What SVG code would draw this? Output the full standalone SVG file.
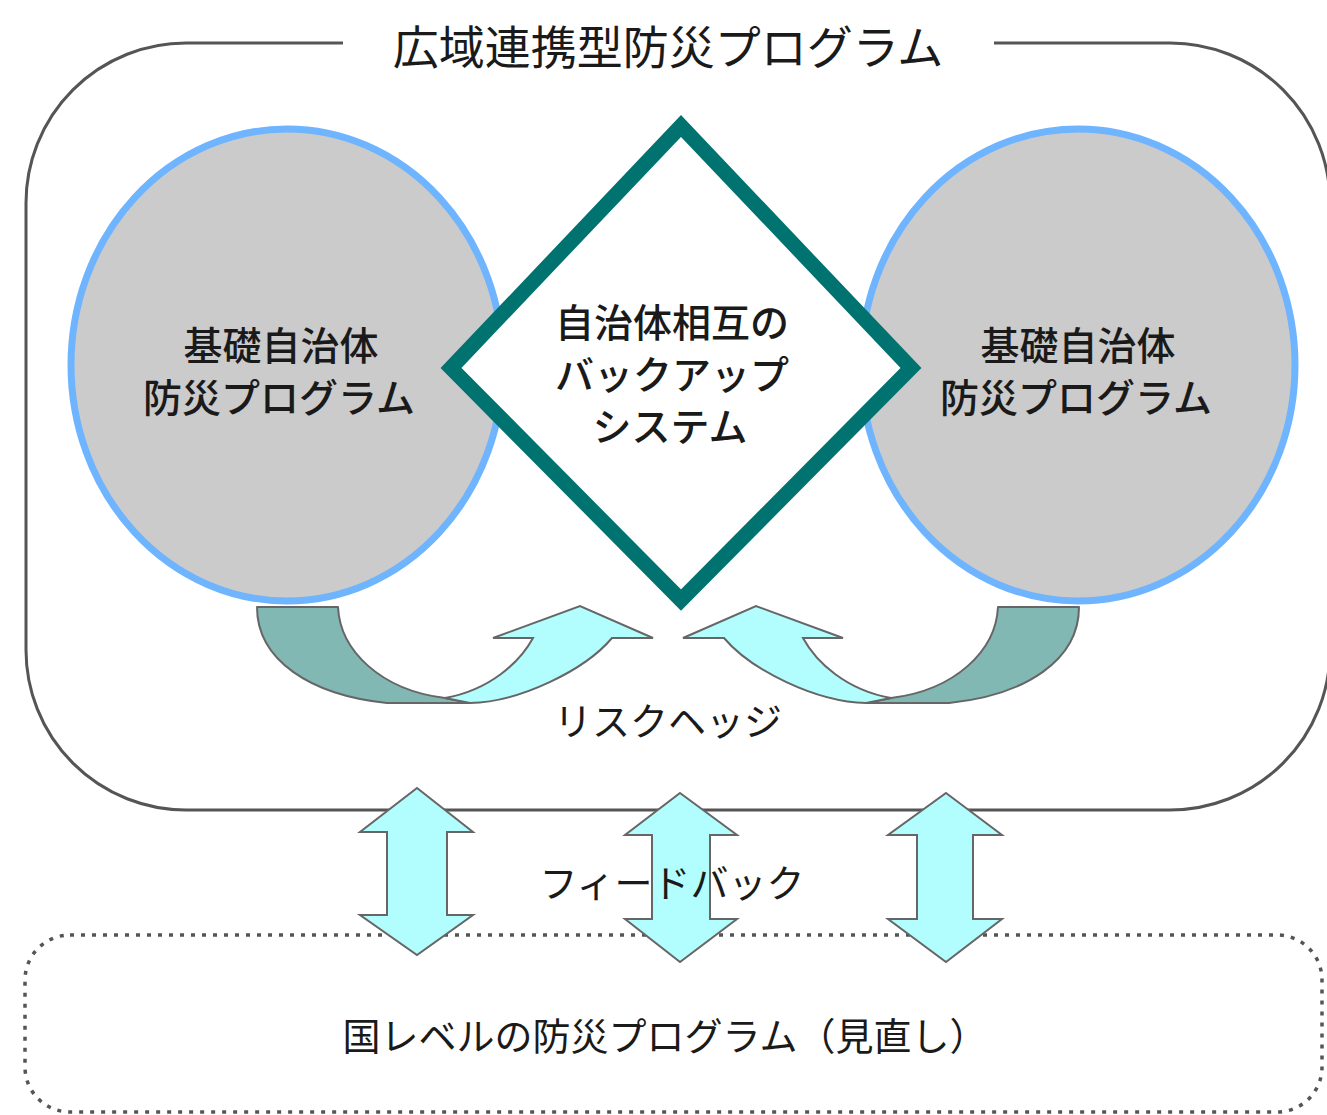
<svg xmlns="http://www.w3.org/2000/svg" width="1327" height="1115" viewBox="0 0 1327 1115">
<style>
  text { font-family: "Noto Sans CJK JP", "Noto Sans CJK SC", sans-serif; fill: #1a1a1a; text-anchor: middle; dominant-baseline: central; }
  .t-title { font-size: 46px; }
  .t-node { font-size: 39px; font-weight: 500; }
  .t-lbl { font-size: 38px; }
  .circ { fill: #cbcbcb; stroke: #6eb4ff; stroke-width: 7; }
  .frame { fill: none; stroke: #555; stroke-width: 3; }
  .dotted { fill: none; stroke: #555; stroke-width: 3.5; stroke-dasharray: 4 7; }
  .dark { fill: #82b8b4; stroke: #666; stroke-width: 2; stroke-linejoin: round; }
  .light { fill: #b2fdfd; stroke: #666; stroke-width: 2; stroke-linejoin: miter; }
</style>
<defs>
  <g id="hedge">
    <path class="dark" d="M257,607 L338,607 C340,650 380,690 445,698 L470,703 L387,703 C310,695 257,660 257,607 Z"/>
    <path class="light" d="M445,698 L470,703 C520,702 585,670 612,638 L653,638 L580,606 L493,638 L533,638 C520,662 490,690 445,698 Z"/>
  </g>
</defs>
<rect width="1327" height="1115" fill="#fff"/>

<g id="frame-wide">
  <path class="frame" d="M343,43 L186,43 A160,160 0 0 0 26,203 L26,650 A160,160 0 0 0 186,810 L1170,810 A160,160 0 0 0 1330,650 L1330,203 A160,160 0 0 0 1170,43 L994,43"/>
  <text class="t-title" x="668" y="44">広域連携型防災プログラム</text>
</g>

<g id="frame-national">
  <rect class="dotted" x="25" y="935" width="1297" height="177" rx="45" ry="45"/>
  <text class="t-lbl" x="665" y="1033">国レベルの防災プログラム（見直し）</text>
</g>

<g id="node-left">
  <ellipse class="circ" cx="287" cy="365" rx="216" ry="236"/>
  <text class="t-node" x="281" y="343">基礎自治体</text>
  <text class="t-node" x="279" y="395">防災プログラム</text>
</g>

<g id="node-right">
  <ellipse class="circ" cx="1078" cy="365" rx="217" ry="236"/>
  <text class="t-node" x="1078" y="343">基礎自治体</text>
  <text class="t-node" x="1076" y="395">防災プログラム</text>
</g>

<g id="node-backup">
  <polygon points="681,126 911,368 681,600 451,368" fill="#fff" stroke="#007370" stroke-width="15" stroke-linejoin="miter"/>
  <text class="t-node" x="672" y="320">自治体相互の</text>
  <text class="t-node" x="672" y="372">バックアップ</text>
  <text class="t-node" x="670" y="424">システム</text>
</g>

<g id="connectors">
  <use href="#hedge"/>
  <use href="#hedge" transform="translate(1336,0) scale(-1,1)"/>
  <polygon class="light" points="417,788 473,832 447,832 447,915 473,915 417,955 360,915 387,915 387,832 360,832"/>
  <polygon class="light" points="680,793 737,835 710,835 710,919 737,919 680,962 625,919 652,919 652,835 625,835"/>
  <polygon class="light" points="946,793 1002,835 973,835 973,919 1002,919 946,962 888,919 917,919 917,835 888,835"/>
</g>

<g id="labels">
  <text class="t-lbl" x="668" y="718">リスクヘッジ</text>
  <text class="t-lbl" x="672" y="880">フィードバック</text>
</g>
</svg>
